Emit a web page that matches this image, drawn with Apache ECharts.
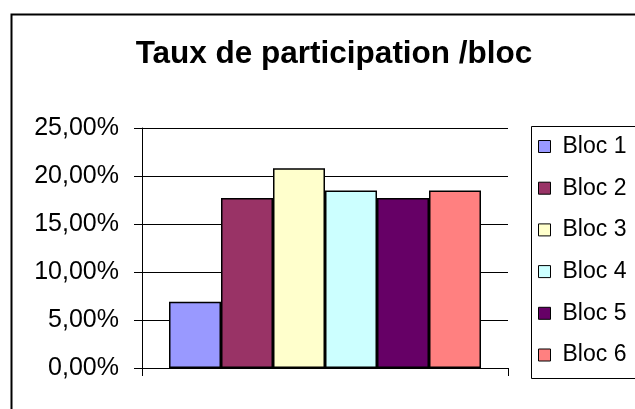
<!DOCTYPE html>
<html>
<head>
<meta charset="utf-8">
<script src="https://cdn.jsdelivr.net/npm/echarts@6/dist/echarts.min.js"></script>
<style>
  html, body { margin: 0; padding: 0; background: #fff; }
  #container { width: 635px; height: 409px; }
</style>
</head>
<body>
<div id="container"></div>
<script>
var categories = ['Bloc'];
var seriesNames = ['Bloc 1', 'Bloc 2', 'Bloc 3', 'Bloc 4', 'Bloc 5', 'Bloc 6'];
var seriesValues = [0.069, 0.177, 0.208, 0.185, 0.177, 0.185];
var seriesColors = ['#9999FF', '#993366', '#FFFFCC', '#CCFFFF', '#660066', '#FF8080'];
var yTicks = [0, 0.05, 0.10, 0.15, 0.20, 0.25];

var font = '"Liberation Sans", Arial, sans-serif';

var dom = document.getElementById('container');
var myChart = echarts.init(dom);

var series = [];
for (var i = 0; i < seriesNames.length; i++) {
    series.push({
        name: seriesNames[i],
        type: 'bar',
        barWidth: 52,
        barGap: '0%',
        data: [seriesValues[i]],
        itemStyle: {
            color: seriesColors[i],
            borderColor: '#000',
            borderWidth: 1.5
        }
    });
}

var option = {
    animation: false,
    backgroundColor: '#fff',
    title: {
        text: 'Taux de participation /bloc',
        left: 329,
        textAlign: 'center',
        top: 33,
        textStyle: {
            fontFamily: font,
            fontWeight: 'bold',
            fontSize: 31.5,
            color: '#000'
        }
    },
    graphic: [
        {
            type: 'rect',
            left: 9,
            top: 12,
            shape: { width: 700, height: 500 },
            style: { fill: 'none', stroke: '#000', lineWidth: 2 }
        },
        {
            type: 'rect',
            left: 529,
            top: 124,
            shape: { width: 200, height: 252 },
            style: { fill: 'none', stroke: '#000', lineWidth: 1 }
        }
    ],
    legend: {
        orient: 'vertical',
        left: 538,
        top: 135,
        padding: 0,
        itemWidth: 12,
        itemHeight: 12,
        itemGap: 18.7,
        icon: 'rect',
        itemStyle: { borderColor: '#000', borderWidth: 1 },
        textStyle: {
            fontFamily: font,
            fontSize: 23,
            color: '#000',
            padding: [0, 0, 0, 7]
        },
        data: seriesNames
    },
    grid: {
        left: 142,
        right: 127,
        top: 128,
        bottom: 41,
        containLabel: false
    },
    xAxis: {
        type: 'category',
        data: categories,
        axisLine: { show: true, lineStyle: { color: '#000', width: 1 } },
        axisTick: { show: true, length: 8, lineStyle: { color: '#000' } },
        axisLabel: { show: false },
        splitLine: { show: false }
    },
    yAxis: {
        type: 'value',
        min: yTicks[0],
        max: yTicks[yTicks.length - 1],
        interval: 0.05,
        axisLine: { show: true, lineStyle: { color: '#000', width: 1 } },
        axisTick: { show: true, length: 8, lineStyle: { color: '#000' } },
        splitLine: { show: true, lineStyle: { color: '#000', width: 1 } },
        axisLabel: {
            margin: 23,
            fontFamily: font,
            fontSize: 25,
            color: '#000',
            formatter: function (v) {
                return (v * 100).toFixed(2).replace('.', ',') + '%';
            }
        }
    },
    series: series
};

if (option && typeof option === "object") {
    myChart.setOption(option, true);
}
</script>
</body>
</html>
